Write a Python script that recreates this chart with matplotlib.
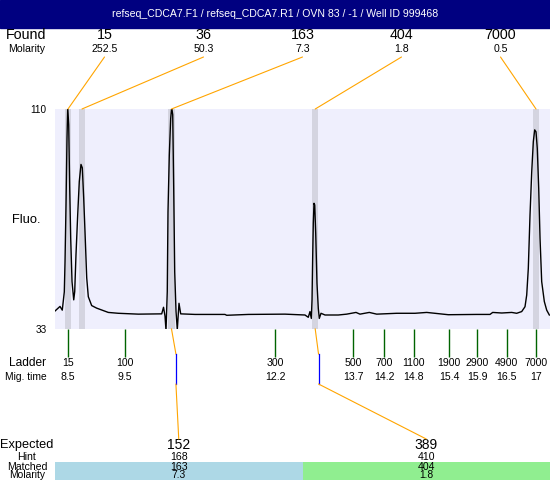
import matplotlib
matplotlib.use("Agg")
import matplotlib.pyplot as plt
from matplotlib.patches import Rectangle, ConnectionPatch

plt.rcParams['font.family'] = ['Liberation Sans', 'DejaVu Sans']

# ---------------- data ----------------
title = "refseq_CDCA7.F1 / refseq_CDCA7.R1 / OVN 83 / -1 / Well ID 999468"

found_size = ["15", "36", "163", "404", "7000"]
found_molarity = ["252.5", "50.3", "7.3", "1.8", "0.5"]
found_time = [8.5, 8.754, 10.38, 12.99, 17.0]

ladder_size = ["15", "100", "300", "500", "700", "1100", "1900", "2900", "4900", "7000"]
ladder_time_label = ["8.5", "9.5", "12.2", "13.7", "14.2", "14.8", "15.4", "15.9", "16.5", "17"]
ladder_time = [8.5, 9.535, 12.26, 13.676, 14.24, 14.78, 15.42, 15.93, 16.47, 17.0]

expected_size = ["152", "389"]
hint_size = ["168", "410"]
matched_size = ["163", "404"]
matched_molarity = ["7.3", "1.8"]
matched_peak_time = [10.38, 12.99]
matched_ladder_time = [10.46, 13.05]
matched_colors = ["#ADD8E6", "#90EE90"]

trace_time = [8.264, 8.355, 8.396, 8.433, 8.446, 8.464, 8.482, 8.495, 8.513, 8.531,
              8.549, 8.573, 8.604, 8.622, 8.645, 8.676, 8.705, 8.736, 8.760, 8.785,
              8.809, 8.840, 8.869, 8.930, 9.021, 9.232, 9.414, 9.777, 10.202, 10.235,
              10.262, 10.280, 10.303, 10.316, 10.340, 10.365, 10.383, 10.402, 10.420, 10.438,
              10.462, 10.485, 10.516, 10.547, 10.807, 11.351, 11.382, 11.775, 12.441, 12.804,
              12.864, 12.895, 12.919, 12.932, 12.944, 12.955, 12.968, 12.981, 12.999, 13.022,
              13.046, 13.064, 13.095, 13.168, 13.409, 13.562, 13.731, 13.803, 13.972, 14.107,
              14.470, 14.802, 15.015, 15.407, 15.923, 16.164, 16.213, 16.377, 16.558, 16.649,
              16.740, 16.800, 16.831, 16.860, 16.891, 16.922, 16.951, 16.976, 17.000, 17.023,
              17.049, 17.073, 17.103, 17.151, 17.194, 17.242]
trace_fluo = [39.3, 40.9, 39.6, 46.0, 56.6, 76.4, 99.9, 110.5, 104.4, 82.4,
              64.9, 49.6, 43.2, 46.1, 58.9, 72.9, 84.6, 90.6, 89.4, 78.9,
              67.0, 50.9, 44.3, 41.2, 40.3, 38.8, 38.5, 38.2, 38.3, 40.6,
              37.5, 32.5, 46.1, 74.0, 93.9, 106.7, 110.5, 108.0, 82.2, 53.0,
              39.1, 32.8, 42.0, 38.3, 38.1, 38.1, 37.8, 38.1, 38.2, 37.9,
              37.1, 39.1, 36.7, 43.2, 58.3, 70.0, 77.0, 76.4, 66.5, 49.0,
              40.2, 36.7, 38.5, 37.9, 37.9, 38.2, 38.8, 38.2, 38.8, 38.2,
              38.5, 38.5, 38.8, 38.0, 38.1, 38.1, 38.8, 38.6, 38.8, 38.5,
              39.1, 40.8, 44.9, 54.2, 72.9, 88.0, 98.6, 102.7, 102.0, 96.2,
              82.2, 64.7, 49.6, 42.6, 39.6, 37.9]

# ---------------- layout helpers ----------------
W, H = 550, 480
fig = plt.figure(figsize=(W / 100, H / 100), dpi=100)
fig.patch.set_facecolor("white")


def fx(px):
    return px / W


def fy(py):
    return 1 - py / H


ORANGE = "#FFA500"
AX_TOP, AX_BOT = 109, 329
AX_H = AX_BOT - AX_TOP


def ay(py):  # figure pixel row -> main-axes fraction
    return (AX_BOT - py) / AX_H


# title bar
fig.add_artist(Rectangle((0, fy(28)), 1, 28 / H, transform=fig.transFigure,
                         color="#000080", zorder=0))
fig.text(0.5, fy(14), title, color="white", ha="center", va="center", fontsize=7.6)

# main axes
ax = fig.add_axes([fx(55), fy(AX_BOT), fx(495), AX_H / H])
ax.set_facecolor("#EFEFFD")
for s in ax.spines.values():
    s.set_visible(False)
ax.set_xlim(8.264, 17.254)
ax.set_ylim(33, 110)
ax.set_xticks([])
ax.set_yticks([33, 110])
ax.set_yticklabels(["33", "110"])
ax.tick_params(axis="y", length=0, pad=6, labelsize=7.2)

for t in found_time:
    ax.axvspan(t - 0.055, t + 0.055, color="#D4D4E0", zorder=1, lw=0)
ax.plot(trace_time, trace_fluo, color="black", lw=1.0, zorder=3)

# Found labels and connectors
n = len(found_size)
for i in range(n):
    xa = (i + 0.5) / n
    ax.text(xa, ay(35), found_size[i], transform=ax.transAxes, ha="center", va="center",
            fontsize=10.3)
    ax.text(xa, ay(49), found_molarity[i], transform=ax.transAxes, ha="center", va="center",
            fontsize=7.6)
    cp = ConnectionPatch(xyA=(xa, ay(57)), coordsA=ax.transAxes,
                         xyB=(found_time[i], 110), coordsB=ax.transData,
                         color=ORANGE, lw=0.8)
    fig.add_artist(cp)

fig.text(fx(26), fy(35), "Found", ha="center", va="center", fontsize=10.3)
fig.text(fx(27), fy(49), "Molarity", ha="center", va="center", fontsize=7.6)
fig.text(fx(26), fy(220), "Fluo.", ha="center", va="center", fontsize=9.3)

# ladder
xt = ax.get_xaxis_transform()
ax.vlines(ladder_time, ay(357), 0, transform=xt, color="#006400", lw=1.0, clip_on=False)
for t, s, m in zip(ladder_time, ladder_size, ladder_time_label):
    ax.text(t, ay(363), s, transform=xt, ha="center", va="center", fontsize=7.6)
    ax.text(t, ay(377), m, transform=xt, ha="center", va="center", fontsize=7.6)
fig.text(fx(27), fy(363), "Ladder", ha="center", va="center", fontsize=8.6)
fig.text(fx(26), fy(377), "Mig. time", ha="center", va="center", fontsize=7.4)

# expected / matched table
BOT_TOP = 462
bot = fig.add_axes([fx(55), 0, fx(495), (H - BOT_TOP) / H])
bot.set_xlim(-0.5, 1.5)
bot.set_ylim(0, 1)
bot.axis("off")
bot.bar(range(len(matched_size)), [1] * len(matched_size), width=1.0, bottom=0,
        color=matched_colors, lw=0)


def by(py):
    return (H - py) / (H - BOT_TOP)


MOL_ROW = 475.3
for i in range(len(expected_size)):
    bot.text(i, by(445), expected_size[i], ha="center", va="center", fontsize=10, clip_on=False)
    bot.text(i, by(456.5), hint_size[i], ha="center", va="center", fontsize=7.6, clip_on=False)
    bot.text(i, by(466.5), matched_size[i], ha="center", va="center", fontsize=7.6)
    bot.text(i, by(MOL_ROW), matched_molarity[i], ha="center", va="center", fontsize=7.4)
    pt, lt = matched_peak_time[i], matched_ladder_time[i]
    ax.plot([pt, lt], [0, ay(354)], transform=xt, color=ORANGE, lw=0.8, clip_on=False)
    ax.plot([lt, lt], [ay(354), ay(384)], transform=xt, color="#0000FF", lw=0.9, clip_on=False)
    cp = ConnectionPatch(xyA=(lt, ay(384)), coordsA=xt, xyB=(i, by(439)), coordsB=bot.transData,
                         color=ORANGE, lw=0.8)
    fig.add_artist(cp)

fig.text(fx(27), fy(445), "Expected", ha="center", va="center", fontsize=9.2)
fig.text(fx(27), fy(456.5), "Hint", ha="center", va="center", fontsize=7.6)
fig.text(fx(27), fy(466.5), "Matched", ha="center", va="center", fontsize=7.6)
fig.text(fx(27), fy(MOL_ROW), "Molarity", ha="center", va="center", fontsize=7.4)

fig.savefig("out.png", dpi=100)
